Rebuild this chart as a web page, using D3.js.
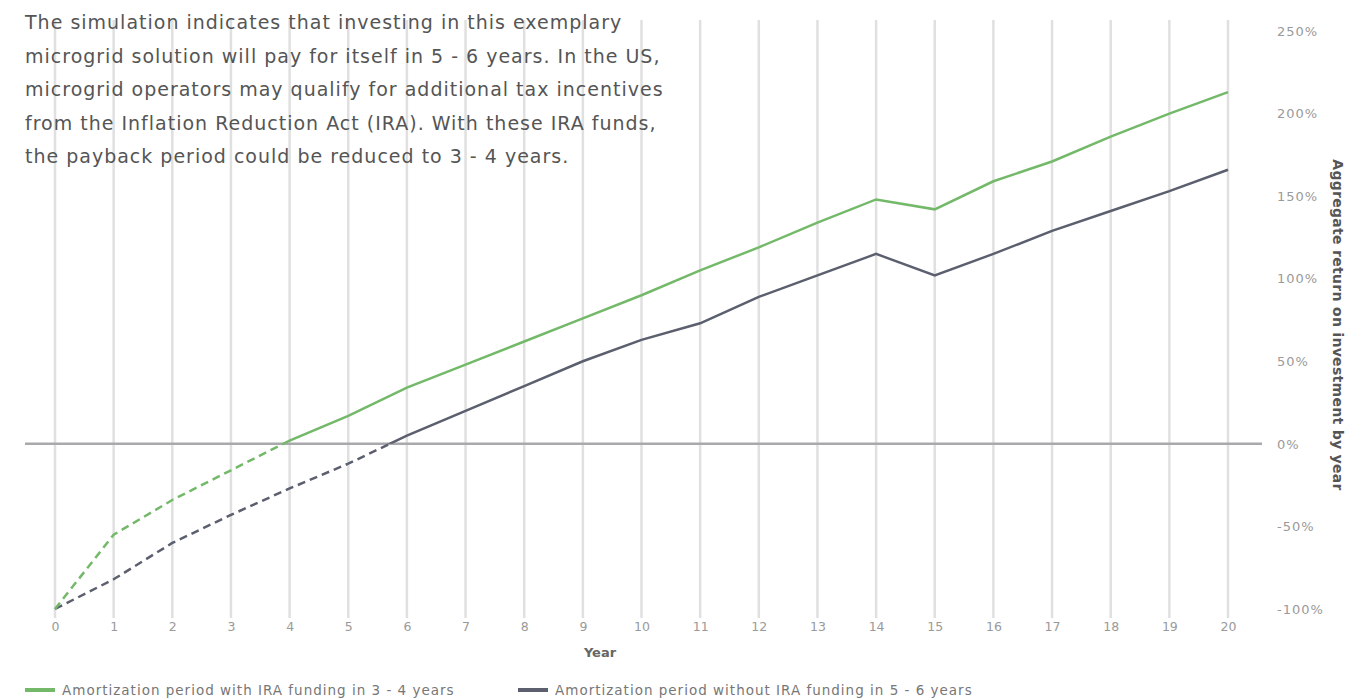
<!DOCTYPE html>
<html>
<head>
<meta charset="utf-8">
<script src="https://cdn.jsdelivr.net/npm/d3@7"></script>
<style>
  body { margin: 0; background: #fff; }
  svg { display: block; font-family: "DejaVu Sans", sans-serif; }
</style>
</head>
<body>
<div id="chart"></div>
<script>
var years = d3.range(0, 21);
var withIRA = [-100, -55, -34, -16, 2, 17, 34, 48, 62, 76, 90, 105, 119, 134, 148, 142, 159, 171, 186, 200, 213];
var withoutIRA = [-100, -82, -60, -43, -27, -12, 5, 20, 35, 50, 63, 73, 89, 102, 115, 102, 115, 129, 141, 153, 166];
var yTicks = [-100, -50, 0, 50, 100, 150, 200, 250];
var intro = [
  "The simulation indicates that investing in this exemplary",
  "microgrid solution will pay for itself in 5 - 6 years. In the US,",
  "microgrid operators may qualify for additional tax incentives",
  "from the Inflation Reduction Act (IRA). With these IRA funds,",
  "the payback period could be reduced to 3 - 4 years."
];
var seriesNames = ["Amortization period with IRA funding in 3 - 4 years",
                   "Amortization period without IRA funding in 5 - 6 years"];

var width = 1358, height = 699;
var green = "#74b96a", slate = "#5b5f6e";

var svg = d3.select("#chart").append("svg")
  .attr("width", width)
  .attr("height", height);

var x = d3.scaleLinear().domain([0, 20]).range([55, 1228]);
var y = d3.scaleLinear().domain([-100, 250]).range([609, 31]);

// vertical grid
svg.append("g")
  .selectAll("line")
  .data(years)
  .enter()
  .append("line")
  .attr("x1", function(d) { return x(d); })
  .attr("x2", function(d) { return x(d); })
  .attr("y1", 20)
  .attr("y2", 618)
  .attr("stroke", "#e0e0e0")
  .attr("stroke-width", 2.5);

// zero line
svg.append("line")
  .attr("x1", 25).attr("x2", 1262)
  .attr("y1", y(0)).attr("y2", y(0))
  .attr("stroke", "#a9a9ad")
  .attr("stroke-width", 2.5);

// x axis labels
var xAxis = d3.axisBottom(x).tickValues(years).tickSize(0).tickPadding(0);
var gx = svg.append("g").attr("transform", "translate(0,622)").call(xAxis);
gx.select(".domain").remove();
gx.selectAll("text")
  .attr("font-family", "DejaVu Sans")
  .attr("fill", "#9a9a9a")
  .attr("font-size", 12.5);

// y axis labels
var yAxis = d3.axisRight(y).tickValues(yTicks).tickSize(0).tickPadding(0)
  .tickFormat(function(d) { return d + "%"; });
var gy = svg.append("g").attr("transform", "translate(1277,0)").call(yAxis);
gy.select(".domain").remove();
gy.selectAll("text")
  .attr("font-family", "DejaVu Sans")
  .attr("fill", "#9a9a9a")
  .attr("font-size", 13)
  .attr("letter-spacing", 1);

svg.append("text")
  .attr("x", 600).attr("y", 657)
  .attr("text-anchor", "middle")
  .attr("font-weight", "bold")
  .attr("font-size", 13)
  .attr("fill", "#666")
  .text("Year");

svg.append("text")
  .attr("transform", "translate(1333,325) rotate(90)")
  .attr("text-anchor", "middle")
  .attr("font-weight", "bold")
  .attr("font-size", 14)
  .attr("letter-spacing", 0.3)
  .attr("fill", "#555")
  .text("Aggregate return on investment by year");

// clip: dashed below zero, solid above
var defs = svg.append("defs");
defs.append("clipPath").attr("id", "above")
  .append("rect").attr("x", 0).attr("y", 0).attr("width", width).attr("height", y(0));
defs.append("clipPath").attr("id", "below")
  .append("rect").attr("x", 0).attr("y", y(0)).attr("width", width).attr("height", height - y(0));

var line = d3.line()
  .x(function(d, i) { return x(years[i]); })
  .y(function(d) { return y(d); });

[[withoutIRA, slate], [withIRA, green]].forEach(function(s) {
  svg.append("path")
    .attr("d", line(s[0]))
    .attr("fill", "none")
    .attr("stroke", s[1])
    .attr("stroke-width", 2.5)
    .attr("stroke-dasharray", "8,5")
    .attr("clip-path", "url(#below)");
  svg.append("path")
    .attr("d", line(s[0]))
    .attr("fill", "none")
    .attr("stroke", s[1])
    .attr("stroke-width", 2.5)
    .attr("clip-path", "url(#above)");
});

// intro text
svg.append("g")
  .selectAll("text")
  .data(intro)
  .enter()
  .append("text")
  .attr("x", 25)
  .attr("y", function(d, i) { return 29 + i * 33.5; })
  .attr("font-size", 19)
  .attr("letter-spacing", 1)
  .attr("fill", "#555")
  .text(function(d) { return d; });

// legend
var legendX = [25, 518];
var legend = svg.append("g")
  .selectAll("g")
  .data(seriesNames)
  .enter()
  .append("g")
  .attr("transform", function(d, i) { return "translate(" + legendX[i] + ",690)"; });
legend.append("line")
  .attr("x1", 0).attr("x2", 30)
  .attr("stroke", function(d, i) { return i == 0 ? green : slate; })
  .attr("stroke-width", 4);
legend.append("text")
  .attr("x", 37).attr("y", 5)
  .attr("font-size", 13.5)
  .attr("letter-spacing", 1)
  .attr("fill", "#777")
  .text(function(d) { return d; });
</script>
</body>
</html>
